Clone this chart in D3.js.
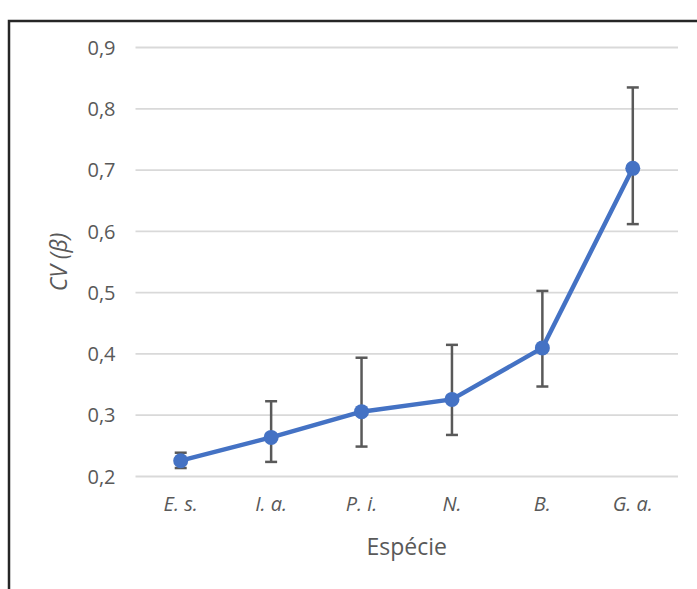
<!DOCTYPE html>
<html>
<head>
<meta charset="utf-8">
<script src="https://cdn.jsdelivr.net/npm/d3@7"></script>
<style>
    body { margin: 0; background: #fff; }
    svg { display: block; }
</style>
</head>
<body>
<div id="cv-graph"></div>
<script>
const species = ["E. s.", "I. a.", "P. i.", "N.", "B.", "G. a."];
const cvMean = [0.225, 0.263, 0.305, 0.325, 0.409, 0.702];
const cvUpper = [0.238, 0.322, 0.393, 0.414, 0.502, 0.834];
const cvLower = [0.213, 0.223, 0.248, 0.267, 0.346, 0.611];
const yTicks = [0.2, 0.3, 0.4, 0.5, 0.6, 0.7, 0.8, 0.9];

const width = 697, height = 589;
const plotMargin = {top: 47, right: 19, bottom: 113, left: 135.5};
const plotWidth = width - plotMargin.left - plotMargin.right,
    plotHeight = height - plotMargin.top - plotMargin.bottom;

const lineColor = "#4472C4",
    errorColor = "#595959",
    textColor = "#595959",
    gridColor = "#d9d9d9";

let x = d3.scaleBand().domain(species).range([0, plotWidth]),
    y = d3.scaleLinear().domain([0.2, 0.9]).range([plotHeight, 0]);

const fmt = d3.format(".1f");

let svg = d3.select("#cv-graph")
    .append("svg")
    .attr("width", width)
    .attr("height", height);

// frame (left + top only visible)
svg.append("path")
    .attr("d", "M9," + height + "V21H" + width)
    .style("fill", "none")
    .style("stroke", "#262626")
    .style("stroke-width", 2.5);

let plot = svg.append("g")
    .attr("transform", `translate(${plotMargin.left}, ${plotMargin.top})`);

// gridlines + y labels
let yAxis = plot.append("g")
    .attr("class", "y axis")
    .call(d3.axisLeft(y).tickValues(yTicks).tickSize(-plotWidth).tickPadding(20)
        .tickFormat(d => fmt(d).replace(".", ",")));
yAxis.select(".domain").remove();
yAxis.selectAll(".tick line")
    .style("stroke", gridColor)
    .style("stroke-width", 1.8);
yAxis.selectAll(".tick text")
    .style("fill", textColor)
    .style("font-family", "'Open Sans', sans-serif")
    .style("font-size", "20px")
    .attr("dy", "0.36em");

// category labels
let xAxis = plot.append("g")
    .attr("class", "x axis")
    .attr("transform", "translate(0," + plotHeight + ")")
    .call(d3.axisBottom(x).tickSize(0).tickPadding(21));
xAxis.select(".domain").remove();
xAxis.selectAll(".tick text")
    .style("fill", textColor)
    .style("font-family", "'Open Sans', sans-serif")
    .style("font-style", "italic")
    .style("font-size", "20px");

function cx(d) {
    return x(d) + x.bandwidth() / 2;
}

// error bars
let errors = plot.append("g").attr("class", "error bars");
species.forEach(function (s, i) {
    let g = errors.append("g")
        .style("stroke", errorColor)
        .style("stroke-width", 2.5);
    g.append("line")
        .attr("x1", cx(s)).attr("x2", cx(s))
        .attr("y1", y(cvUpper[i])).attr("y2", y(cvLower[i]));
    [cvUpper[i], cvLower[i]].forEach(function (v) {
        g.append("line")
            .attr("x1", cx(s) - 6).attr("x2", cx(s) + 6)
            .attr("y1", y(v)).attr("y2", y(v));
    });
});

// line + markers
plot.append("path")
    .datum(cvMean)
    .style("fill", "none")
    .style("stroke", lineColor)
    .style("stroke-width", 4.5)
    .style("stroke-linejoin", "round")
    .attr("d", d3.line()
        .x(function (d, i) {
            return cx(species[i]);
        })
        .y(function (d) {
            return y(d);
        }));

plot.selectAll(".marker")
    .data(cvMean)
    .enter()
    .append("circle")
    .attr("class", "marker")
    .attr("cx", (d, i) => cx(species[i]))
    .attr("cy", d => y(d))
    .attr("r", 7.5)
    .style("fill", lineColor);

// axis titles
svg.append("text")
    .attr("x", plotMargin.left + plotWidth / 2)
    .attr("y", 555)
    .attr("text-anchor", "middle")
    .style("fill", textColor)
    .style("font-family", "'Open Sans', sans-serif")
    .style("font-size", "23px")
    .text("Espécie");

svg.append("text")
    .attr("transform", "translate(67,262) rotate(-90)")
    .attr("text-anchor", "middle")
    .style("fill", textColor)
    .style("font-family", "'Open Sans', sans-serif")
    .style("font-style", "italic")
    .style("font-size", "23px")
    .text("CV (β)");
</script>
</body>
</html>
